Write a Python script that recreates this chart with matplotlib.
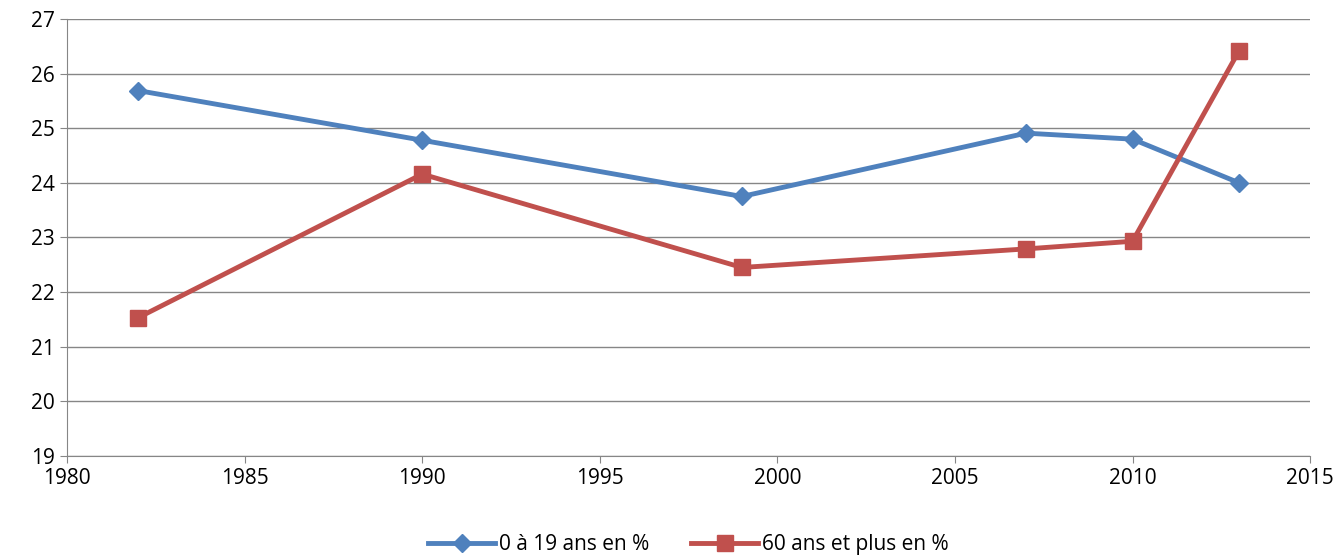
import matplotlib
matplotlib.use("Agg")
import matplotlib.pyplot as plt

years = [1982, 1990, 1999, 2007, 2010, 2013]
jeunes = [25.69, 24.78, 23.75, 24.91, 24.8, 24.0]
seniors = [21.53, 24.16, 22.45, 22.79, 22.93, 26.42]

plt.rcParams['font.family'] = ['Open Sans', 'DejaVu Sans']

fig = plt.figure(figsize=(13.41, 5.6), dpi=100)
ax = fig.add_axes([0.05, 0.186, 0.927, 0.78])

ax.plot(years, jeunes, color='#4F81BD', lw=3.5, marker='D', ms=9,
        label='0 à 19 ans en %')
ax.plot(years, seniors, color='#C0504D', lw=3.5, marker='s', ms=12,
        label='60 ans et plus en %')

ax.set_xlim(1980, 2015)
ax.set_ylim(19, 27)
ax.set_xticks(range(1980, 2016, 5))
ax.set_yticks(range(19, 28))
ax.yaxis.grid(True, color='#868686', lw=1)
ax.set_axisbelow(True)
for s in ['top', 'right']:
    ax.spines[s].set_visible(False)
for s in ['left', 'bottom']:
    ax.spines[s].set_color('#868686')
ax.tick_params(axis='both', colors='#868686', labelcolor='black',
               labelsize=15, length=5)

ax.legend(loc='center', bbox_to_anchor=(0.5, -0.204), ncol=2,
          frameon=False, fontsize=15, handlelength=3.2, handletextpad=0.2,
          columnspacing=2)

fig.savefig('out.png', dpi=100)
